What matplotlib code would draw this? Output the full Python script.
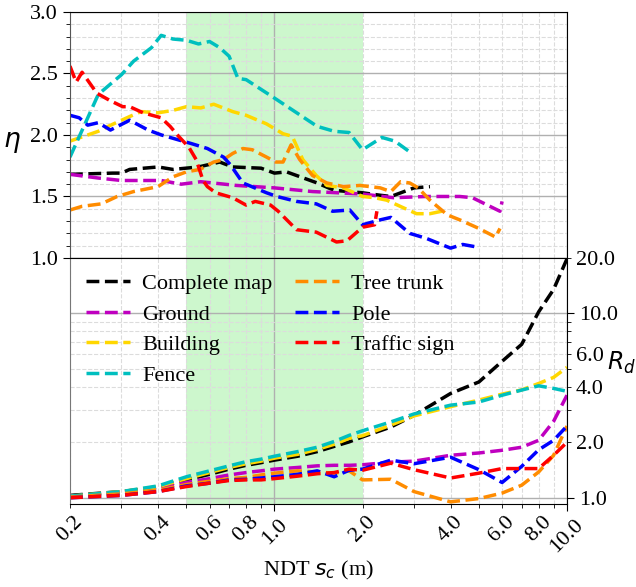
import numpy as np
import matplotlib
matplotlib.use("Agg")
import matplotlib.pyplot as plt
from matplotlib.ticker import MultipleLocator, FormatStrFormatter, LogLocator, FuncFormatter

plt.rcParams['font.family'] = ['Liberation Serif', 'DejaVu Serif']
plt.rcParams['mathtext.fontset'] = 'dejavusans'

labels = ["Complete map", "Ground", "Building", "Fence", "Tree trunk", "Pole", "Traffic sign"]
colors = ["black", "m", "gold", "c", "darkorange", "b", "r"]

# top panel: eta vs NDT cell size, each class has its own sample points
eta_x_map = [0.2, 0.28, 0.3, 0.32, 0.4, 0.45, 0.55, 0.65, 0.72, 0.9, 1.0, 1.1, 1.4, 1.6, 2.0, 2.3, 2.5, 3.0, 3.4]
eta_map = [1.68, 1.69, 1.69, 1.72, 1.74, 1.72, 1.74, 1.78, 1.74, 1.73, 1.69, 1.70, 1.61, 1.55, 1.53, 1.51, 1.50, 1.57, 1.58]

eta_x_ground = [0.2, 0.25, 0.3, 0.41, 0.48, 0.56, 0.74, 1.0, 1.35, 2.0, 2.55, 3.3, 4.3, 4.75, 5.9, 6.0]
eta_ground = [1.68, 1.65, 1.63, 1.63, 1.60, 1.62, 1.59, 1.57, 1.54, 1.52, 1.49, 1.50, 1.50, 1.49, 1.38, 1.46]

eta_x_building = [0.2, 0.25, 0.27, 0.32, 0.35, 0.40, 0.45, 0.50, 0.56, 0.62, 0.72, 0.80, 0.94, 1.07, 1.15,
                  1.25, 1.39, 1.51, 1.72, 2.0, 2.2, 2.42, 2.69, 3.06, 3.4, 3.73]
eta_building = [1.95, 2.03, 2.07, 2.15, 2.19, 2.18, 2.20, 2.23, 2.22, 2.25, 2.19, 2.16, 2.09, 2.01, 1.99,
                1.80, 1.67, 1.59, 1.57, 1.50, 1.49, 1.47, 1.42, 1.36, 1.36, 1.38]

eta_x_fence = [0.2, 0.25, 0.3, 0.33, 0.38, 0.41, 0.45, 0.50, 0.55, 0.60, 0.65, 0.70, 0.75, 0.80, 1.0,
               1.4, 1.6, 1.8, 2.0, 2.33, 2.58, 2.91]
eta_fence = [1.82, 2.33, 2.49, 2.60, 2.71, 2.81, 2.78, 2.77, 2.74, 2.76, 2.71, 2.64, 2.46, 2.45, 2.30,
             2.07, 2.03, 2.02, 1.88, 1.98, 1.95, 1.86]

eta_x_trunk = [0.2, 0.22, 0.256, 0.29, 0.33, 0.40, 0.45, 0.50, 0.556, 0.62, 0.67, 0.72, 0.78, 0.84, 0.94,
               1.01, 1.07, 1.14, 1.22, 1.35, 1.51, 1.72, 1.96, 2.3, 2.5, 2.7, 2.9, 3.1, 3.4, 3.9, 4.3,
               5.0, 5.7, 5.9]
eta_trunk = [1.39, 1.42, 1.44, 1.50, 1.54, 1.58, 1.66, 1.70, 1.72, 1.78, 1.80, 1.85, 1.89, 1.88, 1.82,
             1.78, 1.78, 1.92, 1.80, 1.67, 1.61, 1.58, 1.59, 1.57, 1.54, 1.62, 1.61, 1.57, 1.47, 1.35, 1.31,
             1.24, 1.17, 1.24]

eta_x_pole = [0.2, 0.215, 0.23, 0.25, 0.275, 0.32, 0.37, 0.411, 0.47, 0.52, 0.59, 0.67, 0.706, 0.78, 0.94,
              1.02, 1.19, 1.39, 1.58, 1.81, 2.0, 2.3, 2.5, 2.9, 3.3, 4.0, 4.4, 4.9]
eta_pole = [2.16, 2.14, 2.08, 2.10, 2.04, 2.12, 2.04, 2.00, 1.96, 1.93, 1.89, 1.82, 1.76, 1.61, 1.53,
            1.50, 1.46, 1.44, 1.38, 1.39, 1.27, 1.31, 1.33, 1.20, 1.16, 1.08, 1.11, 1.09]

eta_x_sign = [0.2, 0.21, 0.22, 0.247, 0.274, 0.303, 0.32, 0.356, 0.41, 0.44, 0.47, 0.51, 0.54, 0.57, 0.59,
              0.63, 0.72, 0.80, 0.86, 0.97, 1.03, 1.19, 1.39, 1.63, 1.77, 2.0, 2.2, 2.24]
eta_sign = [2.56, 2.43, 2.51, 2.34, 2.28, 2.23, 2.23, 2.18, 2.14, 2.07, 1.99, 1.90, 1.80, 1.63, 1.58,
            1.53, 1.49, 1.43, 1.46, 1.43, 1.38, 1.23, 1.21, 1.13, 1.14, 1.25, 1.27, 1.38]

# bottom panel: R_d on a shared grid of cell sizes
rd_x = [0.2, 0.3, 0.4, 0.5, 0.6, 0.7, 0.8, 0.9, 1.0, 1.2, 1.4, 1.6, 1.8, 2.0, 2.5, 3.0, 4.0, 5.0, 6.0, 7.0, 8.0, 9.0, 10.0]
rd_map = [1.03, 1.08, 1.14, 1.25, 1.34, 1.43, 1.50, 1.55, 1.60, 1.68, 1.78, 1.90, 2.01, 2.14, 2.42, 2.80,
          3.68, 4.25, 5.5, 6.8, 10.2, 13.5, 19.8]
rd_ground = [1.02, 1.06, 1.12, 1.21, 1.27, 1.33, 1.37, 1.40, 1.43, 1.46, 1.49, 1.50, 1.50, 1.51, 1.56, 1.58,
             1.70, 1.75, 1.81, 1.88, 2.05, 2.6, 3.6]
rd_building = [1.02, 1.08, 1.15, 1.27, 1.37, 1.46, 1.53, 1.58, 1.64, 1.72, 1.83, 1.95, 2.10, 2.17, 2.48, 2.78,
               3.12, 3.39, 3.65, 3.85, 4.17, 4.5, 5.1]
rd_fence = [1.02, 1.08, 1.16, 1.30, 1.40, 1.49, 1.57, 1.62, 1.68, 1.78, 1.88, 2.02, 2.18, 2.31, 2.58, 2.85,
            3.18, 3.31, 3.6, 3.84, 4.05, 3.92, 3.78]
rd_trunk = [1.01, 1.05, 1.10, 1.18, 1.23, 1.27, 1.29, 1.33, 1.36, 1.40, 1.38, 1.36, 1.40, 1.25, 1.26, 1.08,
            0.95, 0.99, 1.06, 1.17, 1.38, 1.70, 2.45]
rd_pole = [1.00, 1.03, 1.08, 1.16, 1.20, 1.25, 1.26, 1.28, 1.30, 1.34, 1.40, 1.30, 1.41, 1.43, 1.60, 1.53,
           1.66, 1.42, 1.21, 1.48, 1.82, 2.05, 2.45]
rd_sign = [1.00, 1.03, 1.08, 1.15, 1.20, 1.24, 1.25, 1.25, 1.27, 1.31, 1.35, 1.37, 1.43, 1.41, 1.54, 1.42,
           1.28, 1.36, 1.44, 1.44, 1.44, 1.70, 2.0]

eta_series = [(eta_x_map, eta_map), (eta_x_ground, eta_ground), (eta_x_building, eta_building),
              (eta_x_fence, eta_fence), (eta_x_trunk, eta_trunk), (eta_x_pole, eta_pole),
              (eta_x_sign, eta_sign)]
rd_series = [rd_map, rd_ground, rd_building, rd_fence, rd_trunk, rd_pole, rd_sign]

x_minor_labels = [0.2, 0.4, 0.6, 0.8, 2.0, 4.0, 6.0, 8.0]
rd_minor_labels = [2.0, 4.0, 6.0, 20.0]


def pick_label(shown):
    def fmt(v, pos):
        for s in shown:
            if abs(v - s) < 1e-6 * s:
                return "%.1f" % v
        return ""
    return fmt


def style_grid(ax):
    ax.grid(which='major', color='#b0b0b0', lw=1.0, ls='-')
    ax.grid(which='minor', color='#dcdcdc', lw=0.8, ls='--')
    ax.set_axisbelow(True)


fig = plt.figure(figsize=(6.36, 5.87), dpi=100)
ax1 = fig.add_axes([0.110, 0.5605, 0.7815, 0.4191])
ax2 = fig.add_axes([0.110, 0.1414, 0.7815, 0.4191], sharex=ax1)

for ax in (ax1, ax2):
    ax.axvspan(0.5, 2.0, color='lightgreen', alpha=0.45, lw=0, zorder=0)

for (xs, ys), c in zip(eta_series, colors):
    ax1.plot(xs, ys, ls='--', color=c, lw=2.5)
for ys, c, lab in zip(rd_series, colors, labels):
    ax2.plot(rd_x, ys, ls='--', color=c, lw=2.5, label=lab)

ax1.set_xscale('log')
ax1.set_xlim(0.2, 10.0)
ax1.set_ylim(1.0, 3.0)
ax1.yaxis.set_major_locator(MultipleLocator(0.5))
ax1.yaxis.set_minor_locator(MultipleLocator(0.1))
ax1.yaxis.set_major_formatter(FormatStrFormatter('%.1f'))
ax1.tick_params(axis='x', which='both', labelbottom=False, length=0)
ax1.tick_params(axis='y', which='major', labelsize=16, length=5)
ax1.tick_params(axis='y', which='minor', length=3)
ax1.set_ylabel(r'$\eta$', fontsize=19, rotation=0, va='center')
ax1.yaxis.set_label_coords(-0.117, 0.47)
style_grid(ax1)

ax2.set_yscale('log')
ax2.set_ylim(0.925, 20.0)
ax2.yaxis.tick_right()
ax2.yaxis.set_label_position('right')
ax2.yaxis.set_major_locator(LogLocator(base=10, subs=(1.0,)))
ax2.yaxis.set_minor_locator(LogLocator(base=10, subs=np.arange(2, 10)))
ax2.yaxis.set_major_formatter(FormatStrFormatter('%.1f'))
ax2.yaxis.set_minor_formatter(FuncFormatter(pick_label(rd_minor_labels)))
ax2.tick_params(axis='y', which='both', labelsize=16)
ax2.tick_params(axis='y', which='major', length=5)
ax2.tick_params(axis='y', which='minor', length=3)
ax2.set_ylabel(r'$R_d$', fontsize=17, rotation=0, va='center', ha='center')
ax2.yaxis.set_label_coords(1.109, 0.573)

ax2.xaxis.set_major_formatter(FormatStrFormatter('%.1f'))
ax2.xaxis.set_minor_formatter(FuncFormatter(pick_label(x_minor_labels)))
ax2.tick_params(axis='x', which='both', labelsize=16, rotation=45)
ax2.tick_params(axis='x', which='major', length=5)
ax2.tick_params(axis='x', which='minor', length=3)
style_grid(ax2)
fig.text(0.5, 1 - 570 / 587, r'NDT $s_c$ (m)', fontsize=16, ha='center', va='center')

ax2.spines['left'].set_color('#777777')
ax1.spines['left'].set_color('#555555')

ax2.legend(loc='upper left', ncol=2, frameon=False, fontsize=16, columnspacing=1.0,
           handlelength=2.0, handletextpad=0.55, borderaxespad=0.3, labelspacing=0.45)

fig.savefig('out.png', dpi=100)
